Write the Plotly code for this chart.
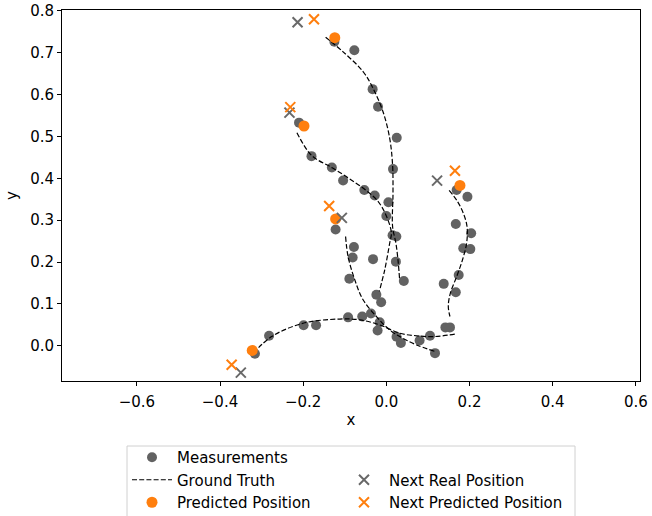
import plotly.graph_objects as go

# Measurements
meas_x = [-0.125, -0.077, -0.033, -0.020, 0.025, 0.016, 0.005, 0.000, 0.015, 0.024, 0.023, 0.042,
          -0.210, -0.180, -0.131, -0.104, -0.053, -0.028, -0.024, -0.0125,
          -0.122, -0.078, -0.081, -0.089, -0.032,
          -0.316, -0.282, -0.199, -0.169, -0.092, -0.058, -0.037, -0.016, -0.021, 0.0245, 0.035,
          0.080, 0.105, 0.117, 0.142, 0.153,
          0.169, 0.195, 0.167, 0.204, 0.185, 0.202, 0.174, 0.138, 0.167]
meas_y = [0.726, 0.706, 0.613, 0.571, 0.497, 0.422, 0.343, 0.310, 0.264, 0.261, 0.201, 0.155,
          0.533, 0.453, 0.426, 0.395, 0.372, 0.359, 0.122, 0.104,
          0.278, 0.236, 0.211, 0.160, 0.207,
          -0.019, 0.024, 0.049, 0.049, 0.068, 0.070, 0.077, 0.0565, 0.0365, 0.0215, 0.007,
          0.0127, 0.024, -0.0175, 0.044, 0.044,
          0.372, 0.356, 0.291, 0.269, 0.233, 0.231, 0.169, 0.148, 0.128]

# Ground truth trajectories
gt1_x = [-0.146, -0.104, -0.056, -0.032, -0.008, 0.008, 0.015, 0.016, 0.015, 0.023, 0.028, 0.032]
gt1_y = [0.737, 0.702, 0.655, 0.615, 0.559, 0.496, 0.432, 0.364, 0.285, 0.245, 0.205, 0.157]
gt2_x = [-0.215, -0.180, -0.130, -0.090, -0.050, -0.020, 0.000, 0.012, 0.008, -0.004, -0.017]
gt2_y = [0.509, 0.455, 0.425, 0.400, 0.372, 0.345, 0.310, 0.270, 0.245, 0.181, 0.130]
gt3_x = [-0.098, -0.092, -0.076, -0.056, -0.024, 0.008, 0.040, 0.073, 0.117]
gt3_y = [0.261, 0.213, 0.158, 0.110, 0.070, 0.038, 0.018, 0.002, -0.0135]
gt4_x = [-0.320, -0.276, -0.200, -0.112, -0.064, -0.016, 0.032, 0.073, 0.1126, 0.165]
gt4_y = [-0.0175, 0.022, 0.054, 0.064, 0.062, 0.050, 0.030, 0.024, 0.022, 0.028]
gt5_x = [0.151, 0.169, 0.185, 0.194, 0.193, 0.183, 0.169, 0.154, 0.149, 0.153]
gt5_y = [0.371, 0.348, 0.317, 0.285, 0.245, 0.205, 0.165, 0.126, 0.094, 0.070]

# Predicted positions
pred_x = [-0.124, -0.198, -0.122, 0.177, -0.3225]
pred_y = [0.736, 0.525, 0.303, 0.383, -0.011]

# Next real positions
next_real_x = [-0.2135, -0.233, -0.107, 0.122, -0.350]
next_real_y = [0.7726, 0.557, 0.3055, 0.3945, -0.064]

# Next predicted positions
next_pred_x = [-0.174, -0.231, -0.1375, 0.165, -0.372]
next_pred_y = [0.780, 0.570, 0.334, 0.418, -0.045]

x_ticks = [-0.6, -0.4, -0.2, 0.0, 0.2, 0.4, 0.6]
y_ticks = [0.0, 0.1, 0.2, 0.3, 0.4, 0.5, 0.6, 0.7, 0.8]

GREY = "#626262"
ORANGE = "#ff7f0e"
XGREY = "#696969"
FS = 15
W, H = 652, 516
ML, MR, MT, MB = 62, 12, 10, 135

gt_x, gt_y = [], []
for xs, ys in [(gt1_x, gt1_y), (gt2_x, gt2_y), (gt3_x, gt3_y), (gt4_x, gt4_y), (gt5_x, gt5_y)]:
    gt_x += xs + [None]
    gt_y += ys + [None]

fig = go.Figure()
fig.add_trace(go.Scatter(x=meas_x, y=meas_y, mode="markers", name="Measurements", legend="legend",
                         marker=dict(color=GREY, size=10, line=dict(width=0))))
fig.add_trace(go.Scatter(x=gt_x, y=gt_y, mode="lines", name="Ground Truth", legend="legend",
                         line=dict(color="black", width=1.2, dash="5px,2.2px", shape="spline")))
fig.add_trace(go.Scatter(x=pred_x, y=pred_y, mode="markers", name="Predicted Position", legend="legend",
                         marker=dict(color=ORANGE, size=11, line=dict(width=0))))
fig.add_trace(go.Scatter(x=next_real_x, y=next_real_y, mode="markers", name="Next Real Position",
                         legend="legend2",
                         marker=dict(symbol="x-thin", color=XGREY, size=10,
                                     line=dict(width=2, color=XGREY))))
fig.add_trace(go.Scatter(x=next_pred_x, y=next_pred_y, mode="markers", name="Next Predicted Position",
                         legend="legend2",
                         marker=dict(symbol="x-thin", color=ORANGE, size=10,
                                     line=dict(width=2, color=ORANGE))))

axis_common = dict(showline=True, mirror=True, linecolor="black", linewidth=1,
                   ticks="outside", ticklen=4, tickwidth=1, tickcolor="black", automargin=False,
                   showgrid=False, zeroline=False, tickfont=dict(size=FS, color="black"))

pw, ph = W - ML - MR, H - MT - MB


def px2paper_x(px):
    return (px - ML) / pw


def px2paper_y(py):
    return (H - MB - py) / ph


legend_common = dict(orientation="v", xref="paper", yref="container",
                     xanchor="left", yanchor="top", itemwidth=40,
                     borderwidth=0, bgcolor="rgba(0,0,0,0)", font=dict(size=FS),
                     traceorder="normal")

fig.update_layout(
    width=W, height=H,
    margin=dict(l=ML, r=MR, t=MT, b=MB),
    paper_bgcolor="white", plot_bgcolor="white",
    font=dict(family="DejaVu Sans", size=FS, color="black"),
    xaxis=dict(range=[-0.78, 0.61], tickvals=x_ticks, tickformat=".1f", ticklabelstandoff=3,
               title=dict(text="x", font=dict(size=FS), standoff=4), **axis_common),
    yaxis=dict(range=[-0.084, 0.802], tickvals=y_ticks, tickformat=".1f",
               title=dict(text="y", font=dict(size=FS), standoff=8), **axis_common),
    legend=dict(x=px2paper_x(127), y=1 - 441 / H, **legend_common),
    legend2=dict(x=px2paper_x(339), y=1 - 463.5 / H, **legend_common),
    showlegend=True,
    shapes=[dict(type="rect", xref="paper", yref="paper",
                 x0=px2paper_x(127), x1=px2paper_x(575),
                 y0=px2paper_y(446), y1=px2paper_y(540),
                 line=dict(color="#d0d0d0", width=1), fillcolor="rgba(255,255,255,0.8)",
                 layer="above")],
)

fig.write_html("out.html", config={"displayModeBar": False},
               post_script="document.body.style.margin='0px';document.body.style.overflow='hidden';")
